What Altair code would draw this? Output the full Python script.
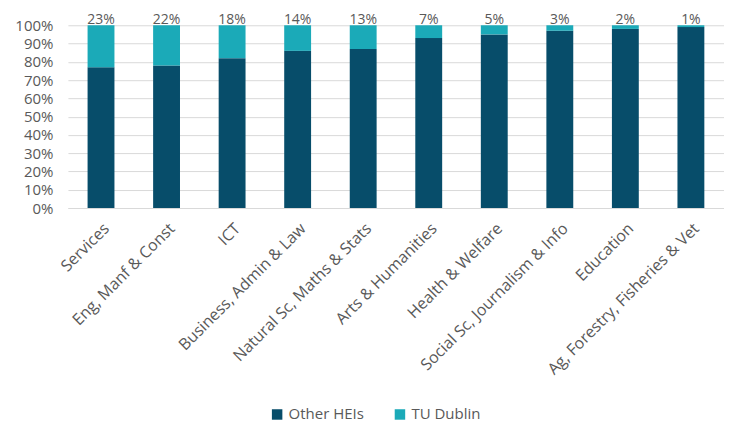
import altair as alt
import pandas as pd

categories = ["Services", "Eng, Manf & Const", "ICT", "Business, Admin & Law",
              "Natural Sc, Maths & Stats", "Arts & Humanities", "Health & Welfare",
              "Social Sc, Journalism & Info", "Education", "Ag, Forestry, Fisheries & Vet"]
tu_dublin = [23, 22, 18, 14, 13, 7, 5, 3, 2, 1]
other_heis = [100 - v for v in tu_dublin]
series = ["Other HEIs", "TU Dublin"]
colors = ["#074D6A", "#1BAAB8"]

rows = []
for c, o, t in zip(categories, other_heis, tu_dublin):
    rows.append({"cat": c, "series": "Other HEIs", "value": o / 100, "ord": 0})
    rows.append({"cat": c, "series": "TU Dublin", "value": t / 100, "ord": 1})
df = pd.DataFrame(rows)
lab = pd.DataFrame({"cat": categories, "value": [1.0] * len(categories),
                    "label": [f"{v}%" for v in tu_dublin]})

font = "Open Sans"
gray = "#595959"

xaxis = alt.Axis(labelAngle=-45, labelFontSize=16, labelColor=gray, labelFont=font,
                 domainColor="#d9d9d9", ticks=False, labelPadding=12,
                 labelOverlap=False, labelLimit=300, title=None)
yaxis = alt.Axis(format=".0%", values=[i / 10 for i in range(11)], labelFontSize=15,
                 labelColor=gray, labelFont=font, domain=False, ticks=False,
                 gridColor="#d9d9d9", labelPadding=15, labelOverlap=False, title=None)
xscale = alt.Scale(paddingInner=0.59, paddingOuter=0.3)
yscale = alt.Scale(domain=[0, 1])

bars = alt.Chart(df).mark_bar().encode(
    x=alt.X("cat:N", sort=categories, scale=xscale, axis=xaxis),
    y=alt.Y("value:Q", stack="zero", scale=yscale, axis=yaxis),
    color=alt.Color("series:N", scale=alt.Scale(domain=series, range=colors),
                    legend=alt.Legend(title=None, orient="none", direction="horizontal",
                                      legendX=202, legendY=382, symbolType="square",
                                      symbolSize=110, labelFontSize=15, labelColor=gray,
                                      labelFont=font, columnPadding=28, symbolStrokeWidth=0)),
    order=alt.Order("ord:Q"),
)

texts = alt.Chart(lab).mark_text(baseline="alphabetic", dy=-1, fontSize=14, color=gray,
                                 font=font).encode(
    x=alt.X("cat:N", sort=categories, scale=xscale, axis=xaxis),
    y=alt.Y("value:Q", scale=yscale, axis=yaxis),
    text="label:N",
)

chart = (bars + texts).properties(
    width=657, height=183,
    autosize=alt.AutoSizeParams(type="none"),
    padding={"left": 60, "top": 17, "right": 0, "bottom": 217},
).configure_view(stroke=None)

chart.save("out.html", embed_options={"renderer": "svg", "actions": False})
